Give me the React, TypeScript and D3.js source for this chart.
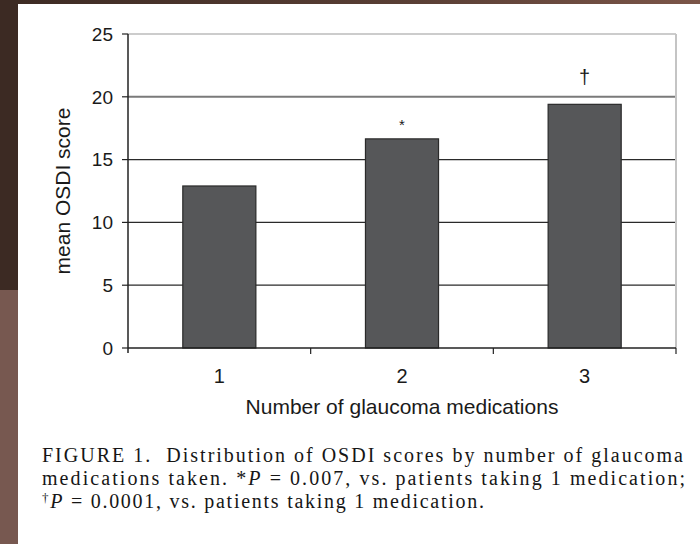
import { useEffect, useRef } from "react";
import * as d3 from "d3";

const categories = ["1", "2", "3"];
const scores = [12.9, 16.65, 19.4];
const markers = ["", "*", "†"];
const yTicks = [0, 5, 10, 15, 20, 25];

const App = () => {
  const svgRef = useRef<SVGSVGElement | null>(null);

  useEffect(() => {
    document.body.style.margin = "0";
    const svg = d3.select(svgRef.current);
    svg.selectAll("*").remove();

    const W = 700;
    const H = 544;
    svg.attr("width", W).attr("height", H);

    // scanned page background
    svg.append("rect").attr("width", W).attr("height", H).attr("fill", "#ffffff");
    const defs = svg.append("defs");
    const topGrad = defs.append("linearGradient").attr("id", "topStrip");
    topGrad.append("stop").attr("offset", "0%").attr("stop-color", "#3c2a23");
    topGrad.append("stop").attr("offset", "60%").attr("stop-color", "#5a3f35");
    topGrad.append("stop").attr("offset", "100%").attr("stop-color", "#7b5548");
    svg.append("rect").attr("width", W).attr("height", 4).attr("fill", "url(#topStrip)");
    svg.append("rect").attr("width", 18).attr("height", 300).attr("fill", "#3c2a23");
    svg.append("rect").attr("y", 290).attr("width", 18).attr("height", 254).attr("fill", "#775850");

    const left = 128;
    const right = 676;
    const top = 34;
    const bottom = 348;

    const x = d3
      .scaleBand()
      .domain(categories)
      .range([left, right])
      .paddingInner(0.6)
      .paddingOuter(0.3);

    const y = d3.scaleLinear().domain([0, 25]).range([bottom, top]);

    const g = svg.append("g").style("font-family", "Liberation Sans, Arial, sans-serif");

    // gridlines
    g.selectAll(".grid")
      .data(yTicks.filter((d) => d > 0))
      .enter()
      .append("line")
      .attr("x1", left)
      .attr("x2", right)
      .attr("y1", (d) => y(d))
      .attr("y2", (d) => y(d))
      .attr("stroke", (d) => (d === 25 ? "#9a9a9a" : d === 20 ? "#7a7a7a" : "#2a2a2a"))
      .attr("stroke-width", (d) => (d === 20 ? 2 : 1.2));

    // right border
    g.append("line")
      .attr("x1", right)
      .attr("x2", right)
      .attr("y1", top)
      .attr("y2", bottom)
      .attr("stroke", "#c4c4c4")
      .attr("stroke-width", 2);

    // bars
    g.selectAll(".bar")
      .data(scores)
      .enter()
      .append("rect")
      .attr("x", (d, i) => x(categories[i]) as number)
      .attr("y", (d) => y(d))
      .attr("width", x.bandwidth())
      .attr("height", (d) => y(0) - y(d))
      .attr("fill", "#565759")
      .attr("stroke", "#2a2a2a")
      .attr("stroke-width", 1.2);

    // significance markers
    g.selectAll(".mark")
      .data(markers)
      .enter()
      .append("text")
      .attr("x", (d, i) => (x(categories[i]) as number) + x.bandwidth() / 2)
      .attr("y", (d, i) => y(scores[i]) - (d === "*" ? 9 : 20))
      .attr("text-anchor", "middle")
      .attr("font-size", (d) => (d === "*" ? 15 : 20))
      .attr("fill", "#1a1a1a")
      .text((d) => d);

    // y axis
    g.append("line")
      .attr("x1", left)
      .attr("x2", left)
      .attr("y1", top)
      .attr("y2", bottom + 5)
      .attr("stroke", "#222")
      .attr("stroke-width", 1.5);
    g.selectAll(".ytick")
      .data(yTicks)
      .enter()
      .append("line")
      .attr("x1", left - 6)
      .attr("x2", left)
      .attr("y1", (d) => y(d))
      .attr("y2", (d) => y(d))
      .attr("stroke", "#222")
      .attr("stroke-width", 1.2);
    g.selectAll(".ylab")
      .data(yTicks)
      .enter()
      .append("text")
      .attr("x", left - 15)
      .attr("y", (d) => y(d))
      .attr("dy", "0.36em")
      .attr("text-anchor", "end")
      .attr("font-size", 19)
      .attr("fill", "#1a1a1a")
      .text((d) => d);

    // x axis
    g.append("line")
      .attr("x1", left)
      .attr("x2", right)
      .attr("y1", bottom)
      .attr("y2", bottom)
      .attr("stroke", "#222")
      .attr("stroke-width", 1.5);
    const step = x.step();
    g.selectAll(".xtick")
      .data(categories)
      .enter()
      .append("line")
      .attr("x1", (d) => (x(d) as number) + x.bandwidth() / 2 + step / 2)
      .attr("x2", (d) => (x(d) as number) + x.bandwidth() / 2 + step / 2)
      .attr("y1", bottom)
      .attr("y2", bottom + 6)
      .attr("stroke", "#222")
      .attr("stroke-width", 1.2);
    g.selectAll(".xlab")
      .data(categories)
      .enter()
      .append("text")
      .attr("x", (d) => (x(d) as number) + x.bandwidth() / 2)
      .attr("y", bottom + 35)
      .attr("text-anchor", "middle")
      .attr("font-size", 20)
      .attr("fill", "#1a1a1a")
      .text((d) => d);

    g.append("text")
      .attr("x", (left + right) / 2)
      .attr("y", bottom + 66)
      .attr("text-anchor", "middle")
      .attr("font-size", 21)
      .attr("fill", "#1a1a1a")
      .text("Number of glaucoma medications");

    g.append("text")
      .attr("transform", `translate(70,${(top + bottom) / 2}) rotate(-90)`)
      .attr("text-anchor", "middle")
      .attr("font-size", 21)
      .attr("fill", "#1a1a1a")
      .text("mean OSDI score");

    // caption
    const cap = svg
      .append("g")
      .style("font-family", "Liberation Serif, Times New Roman, serif")
      .attr("font-size", 20)
      .attr("fill", "#161616");

    cap.append("text")
      .attr("x", 42)
      .attr("y", 462)
      .attr("textLength", 641)
      .attr("lengthAdjust", "spacing")
      .style("white-space", "pre")
      .text("FIGURE 1.  Distribution of OSDI scores by number of glaucoma");

    const l2 = cap.append("text")
      .attr("x", 42)
      .attr("y", 485)
      .attr("textLength", 643)
      .attr("lengthAdjust", "spacing");
    l2.append("tspan").text("medications taken. *");
    l2.append("tspan").attr("font-style", "italic").text("P");
    l2.append("tspan").text(" = 0.007, vs. patients taking 1 medication;");

    const l3 = cap.append("text")
      .attr("x", 42)
      .attr("y", 508)
      .attr("textLength", 442)
      .attr("lengthAdjust", "spacing");
    l3.append("tspan").attr("font-size", 13).attr("dy", -6).text("†");
    l3.append("tspan").attr("font-style", "italic").attr("dy", 6).text("P");
    l3.append("tspan").text(" = 0.0001, vs. patients taking 1 medication.");
  }, []);

  return <svg ref={svgRef} style={{ display: "block" }}></svg>;
};

export default App;
